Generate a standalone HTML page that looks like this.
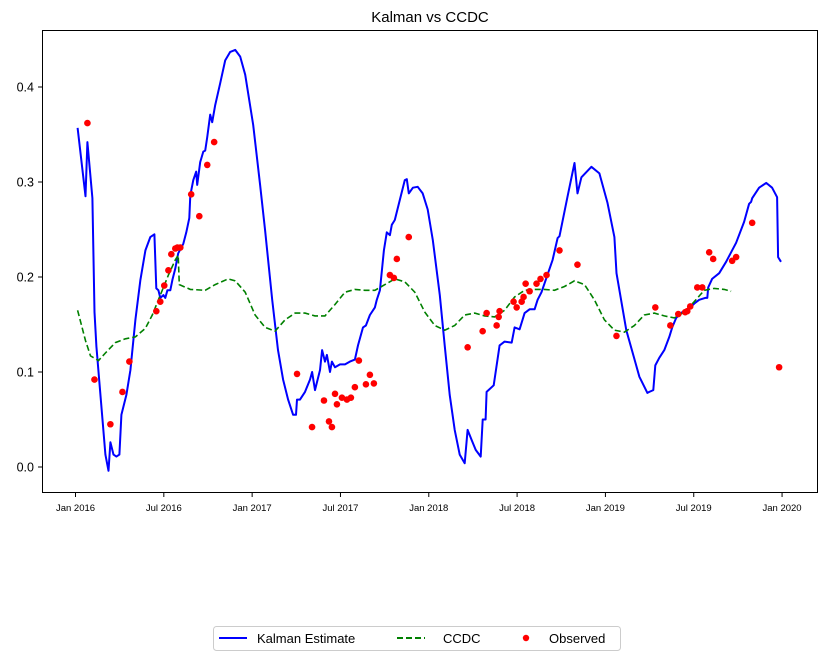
<!DOCTYPE html>
<html><head><meta charset="utf-8"><style>
body{margin:0;background:#fff;font-family:"Liberation Sans",sans-serif}
svg{display:block}
</style></head><body>
<svg id="chart" width="826" height="660" viewBox="0 0 826 660" xmlns="http://www.w3.org/2000/svg" font-family="Liberation Sans, sans-serif">
<rect width="826" height="660" fill="#fff"/>
<text x="430" y="22" font-size="15" text-anchor="middle">Kalman vs CCDC</text>
<g id="plot"></g>
<rect x="42.5" y="30.5" width="775" height="462" fill="none" stroke="#000" stroke-width="1"/>
<g>
<rect x="213.5" y="626.5" width="407" height="24" rx="3" fill="#fff" stroke="#ccc"/>
<g><line x1="219" y1="638" x2="247" y2="638" stroke="#0000ff" stroke-width="2"/><text x="257" y="643" font-size="13">Kalman Estimate</text></g>
<g><line x1="397" y1="638" x2="425" y2="638" stroke="#008000" stroke-width="2" stroke-dasharray="6,3"/><text x="443" y="643" font-size="13">CCDC</text></g>
<g><circle cx="526" cy="638" r="3.2" fill="#ff0000"/><text x="549" y="643" font-size="13">Observed</text></g>
</g>
</svg>
<script>
// months since Jan 2016, values
const kalmanMonths=[0.14,0.68,0.81,1.15,1.29,1.42,2.03,2.24,2.37,2.58,2.78,2.98,3.12,3.46,3.73,4.07,4.41,4.75,5.08,5.36,5.49,5.63,5.76,5.97,6.10,6.24,6.44,6.58,6.78,6.98,7.32,7.53,7.73,7.80,8.00,8.20,8.27,8.47,8.68,8.81,8.95,9.15,9.29,9.49,9.83,10.17,10.51,10.85,11.19,11.53,12.07,12.54,12.88,13.36,13.76,14.10,14.44,14.78,14.98,15.05,15.25,15.59,15.93,16.07,16.27,16.61,16.75,16.95,17.08,17.29,17.42,17.63,17.97,18.31,18.64,18.98,19.19,19.53,19.73,20.00,20.34,20.47,20.68,20.95,21.15,21.36,21.49,21.69,22.03,22.37,22.51,22.64,22.92,23.25,23.59,23.93,24.27,24.75,25.08,25.42,25.76,26.10,26.44,26.64,26.92,27.19,27.53,27.66,27.86,27.93,28.41,28.81,29.15,29.63,29.83,30.17,30.51,30.85,31.19,31.39,31.66,32.41,32.75,32.88,33.42,33.90,34.10,34.37,35.05,35.59,36.14,36.61,36.75,37.42,38.31,38.85,38.98,39.25,39.39,39.66,40.00,40.34,40.54,40.81,41.22,41.56,42.03,42.37,42.78,42.92,42.98,43.25,43.73,44.20,44.54,44.88,45.42,45.76,45.90,45.97,46.44,46.92,47.32,47.66,47.73,47.93];
const kalmanValues=[0.357,0.285,0.342,0.283,0.163,0.127,0.013,-0.004,0.026,0.013,0.011,0.013,0.055,0.076,0.102,0.155,0.197,0.228,0.242,0.245,0.188,0.186,0.178,0.181,0.178,0.186,0.186,0.197,0.209,0.225,0.235,0.247,0.262,0.286,0.302,0.311,0.297,0.321,0.332,0.333,0.347,0.371,0.363,0.381,0.404,0.428,0.437,0.439,0.432,0.413,0.360,0.297,0.249,0.176,0.123,0.092,0.071,0.055,0.055,0.071,0.071,0.079,0.092,0.100,0.081,0.102,0.123,0.111,0.118,0.100,0.111,0.105,0.108,0.108,0.111,0.113,0.128,0.147,0.149,0.160,0.168,0.176,0.186,0.228,0.247,0.244,0.255,0.260,0.281,0.302,0.303,0.288,0.294,0.295,0.288,0.271,0.239,0.181,0.128,0.076,0.039,0.013,0.004,0.039,0.028,0.018,0.011,0.050,0.050,0.079,0.086,0.128,0.132,0.131,0.147,0.145,0.162,0.166,0.166,0.176,0.184,0.218,0.241,0.243,0.284,0.320,0.288,0.305,0.316,0.309,0.278,0.242,0.204,0.144,0.095,0.078,0.079,0.081,0.107,0.115,0.123,0.137,0.147,0.157,0.163,0.165,0.172,0.176,0.178,0.178,0.189,0.198,0.204,0.216,0.226,0.236,0.258,0.277,0.279,0.283,0.294,0.299,0.294,0.284,0.221,0.216];
const ccdcMonths=[0.14,0.68,1.02,1.56,2.03,2.71,3.39,4.07,4.75,5.22,5.76,6.31,6.78,6.98,7.05,7.80,8.81,9.49,10.37,10.85,11.53,12.20,12.88,13.56,14.24,14.92,15.59,16.27,16.95,17.63,18.31,18.98,19.66,20.34,21.02,21.69,22.37,23.05,23.73,24.41,25.08,25.76,26.44,27.12,27.80,28.47,29.15,29.83,30.51,31.19,31.86,32.54,33.22,33.90,34.58,35.25,35.93,36.61,37.29,37.97,38.64,39.32,40.00,40.68,41.36,42.03,42.71,43.39,44.07,44.54];
const ccdcValues=[0.165,0.133,0.117,0.112,0.120,0.131,0.135,0.137,0.146,0.160,0.181,0.202,0.218,0.223,0.192,0.187,0.186,0.192,0.198,0.196,0.184,0.160,0.147,0.143,0.155,0.162,0.162,0.159,0.159,0.171,0.184,0.187,0.186,0.186,0.192,0.198,0.195,0.184,0.163,0.149,0.144,0.149,0.160,0.162,0.159,0.158,0.165,0.179,0.186,0.187,0.187,0.186,0.190,0.196,0.192,0.176,0.155,0.144,0.142,0.149,0.160,0.162,0.159,0.157,0.163,0.174,0.186,0.188,0.187,0.185];
const obsMonths=[0.81,1.29,2.37,3.19,3.66,5.49,5.76,6.03,6.31,6.51,6.78,6.92,7.12,7.86,8.41,8.95,9.42,15.05,16.07,16.88,17.22,17.42,17.63,17.76,18.10,18.44,18.71,18.98,19.25,19.73,20.00,20.27,21.36,21.63,21.83,22.64,26.64,27.66,27.93,28.61,28.75,28.81,29.76,29.97,30.31,30.44,30.58,30.85,31.32,31.59,32.00,32.88,34.10,36.75,39.39,40.41,40.95,41.42,41.56,41.76,42.24,42.58,43.05,43.32,44.61,44.88,45.97,47.80];
const obsValues=[0.362,0.092,0.045,0.079,0.111,0.164,0.174,0.191,0.207,0.224,0.230,0.231,0.231,0.287,0.264,0.318,0.342,0.098,0.042,0.070,0.048,0.042,0.077,0.066,0.073,0.071,0.073,0.084,0.112,0.087,0.097,0.088,0.202,0.199,0.219,0.242,0.126,0.143,0.162,0.149,0.158,0.164,0.174,0.168,0.174,0.179,0.193,0.185,0.193,0.198,0.202,0.228,0.213,0.138,0.168,0.149,0.161,0.163,0.164,0.169,0.189,0.189,0.226,0.219,0.217,0.221,0.257,0.105];
const xTickMonths=[0,6,12,18,24,30,36,42,48];
const xTickLabels=["Jan 2016","Jul 2016","Jan 2017","Jul 2017","Jan 2018","Jul 2018","Jan 2019","Jul 2019","Jan 2020"];
const yTickValues=[0,0.1,0.2,0.3,0.4];
const yTickLabels=["0.0","0.1","0.2","0.3","0.4"];

const X=m=>75.5+m*14.72;
const Y=v=>467-v*950;
const NS="http://www.w3.org/2000/svg";
const g=document.getElementById('plot');
function mk(t,a){const e=document.createElementNS(NS,t);for(const k in a)e.setAttribute(k,a[k]);g.appendChild(e);return e;}

xTickMonths.forEach((m,i)=>{
  const t=mk('line',{x1:X(m),x2:X(m),y1:493,y2:497,stroke:'#000'});
  
  
  const l=mk('text',{x:X(m),y:511,'font-size':'9.5','text-anchor':'middle'});
  l.textContent=xTickLabels[i];
  
  
});
yTickValues.forEach((v,i)=>{
  const t=mk('line',{x1:38,x2:42,y1:Y(v),y2:Y(v),stroke:'#000'});
  
  
  const l=mk('text',{x:34,y:Y(v)+4.5,'font-size':'12.5','text-anchor':'end'});
  l.textContent=yTickLabels[i];
  
  
});
const kp=kalmanMonths.map((m,i)=>X(m).toFixed(1)+','+Y(kalmanValues[i]).toFixed(1)).join(' ');
const kl=mk('polyline',{points:kp,fill:'none',stroke:'#0000ff','stroke-width':2,'stroke-linejoin':'round'});


const cp=ccdcMonths.map((m,i)=>X(m).toFixed(1)+','+Y(ccdcValues[i]).toFixed(1)).join(' ');
const cl=mk('polyline',{points:cp,fill:'none',stroke:'#008000','stroke-width':1.6,'stroke-dasharray':'6,3'});


obsMonths.forEach((m,i)=>{
  const c=mk('circle',{cx:X(m),cy:Y(obsValues[i]),r:3.3,fill:'#ff0000'});
  
  
});
</script>
</body></html>
